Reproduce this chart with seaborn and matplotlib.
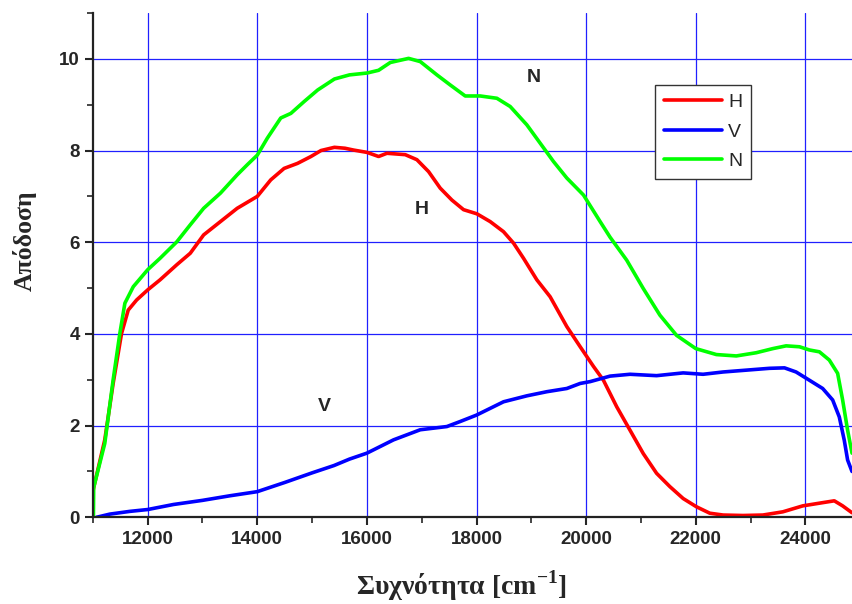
import numpy as np
import pandas as pd
import seaborn as sns
import matplotlib.pyplot as plt
from matplotlib.ticker import MultipleLocator

# data
h_x = [11006, 11217, 11370, 11523, 11645, 11798, 12000, 12226, 12532, 12777, 13021, 13327,
       13633, 14000, 14245, 14489, 14734, 14979, 15162, 15407, 15600, 15757, 16000, 16213,
       16365, 16699, 16912, 17125, 17337, 17550, 17763, 18006, 18249, 18492, 18675, 18857,
       19100, 19343, 19647, 19891, 20134, 20315, 20558, 20800, 21042, 21285, 21527, 21770,
       22012, 22255, 22497, 22861, 23224, 23588, 23952, 24315, 24527, 24679, 24850]
h_y = [0.6, 1.69, 2.92, 4.01, 4.52, 4.74, 4.96, 5.18, 5.51, 5.76, 6.16, 6.45,
       6.74, 7.0, 7.36, 7.61, 7.72, 7.87, 8.0, 8.07, 8.05, 8.01, 7.96, 7.87,
       7.94, 7.91, 7.8, 7.54, 7.18, 6.92, 6.71, 6.62, 6.45, 6.23, 5.98, 5.65,
       5.18, 4.81, 4.16, 3.72, 3.29, 2.99, 2.41, 1.9, 1.39, 0.96, 0.67, 0.41,
       0.23, 0.09, 0.05, 0.04, 0.05, 0.12, 0.25, 0.32, 0.36, 0.25, 0.1]

v_x = [11064, 11309, 11676, 12000, 12471, 13000, 13500, 14000, 14500, 15000, 15400, 15682,
       16000, 16486, 16973, 17459, 17702, 18000, 18492, 18918, 19283, 19647, 19891, 20073,
       20436, 20800, 21285, 21770, 22133, 22497, 22921, 23345, 23618, 23830, 24073, 24315,
       24497, 24618, 24709, 24770, 24850]
v_y = [0.0, 0.07, 0.13, 0.17, 0.28, 0.37, 0.47, 0.56, 0.76, 0.97, 1.13, 1.27,
       1.4, 1.69, 1.91, 1.98, 2.09, 2.23, 2.52, 2.65, 2.74, 2.81, 2.92, 2.96,
       3.08, 3.12, 3.09, 3.15, 3.12, 3.17, 3.21, 3.25, 3.26, 3.17, 2.99, 2.81,
       2.56, 2.19, 1.68, 1.25, 1.0]

n_x = [11010, 11015, 11217, 11370, 11492, 11584, 11737, 12000, 12226, 12532, 12777, 13021,
       13327, 13633, 13817, 14000, 14183, 14428, 14612, 14856, 15101, 15407, 15682, 16000,
       16213, 16426, 16760, 16973, 17277, 17520, 17793, 18067, 18371, 18614, 18918, 19161,
       19404, 19647, 19951, 20255, 20436, 20739, 21042, 21345, 21648, 22000, 22376, 22739,
       23103, 23406, 23648, 23891, 24073, 24255, 24436, 24588, 24679, 24770, 24850]
n_y = [0.0, 0.65, 1.61, 3.0, 4.01, 4.67, 5.03, 5.4, 5.65, 6.01, 6.38, 6.74,
       7.07, 7.47, 7.69, 7.9, 8.27, 8.71, 8.81, 9.07, 9.32, 9.56, 9.65, 9.69,
       9.75, 9.92, 10.01, 9.94, 9.65, 9.43, 9.19, 9.19, 9.14, 8.96, 8.56, 8.16,
       7.76, 7.4, 7.03, 6.45, 6.11, 5.61, 4.99, 4.41, 3.97, 3.68, 3.55, 3.52,
       3.59, 3.68, 3.74, 3.72, 3.65, 3.61, 3.43, 3.14, 2.56, 1.9, 1.4]

df = pd.concat([
    pd.DataFrame({'x': h_x, 'y': h_y, 'series': 'H'}),
    pd.DataFrame({'x': v_x, 'y': v_y, 'series': 'V'}),
    pd.DataFrame({'x': n_x, 'y': n_y, 'series': 'N'}),
])

sns.set_style('ticks')
plt.rcParams['font.family'] = ['Liberation Sans', 'DejaVu Sans']
plt.rcParams['mathtext.fontset'] = 'custom'
plt.rcParams['mathtext.rm'] = 'Liberation Serif:bold'
plt.rcParams['mathtext.bf'] = 'Liberation Serif:bold'

fig = plt.figure(figsize=(8.52, 6.04), dpi=100)
ax = fig.add_axes([0.109, 0.1435, 0.891, 0.835])

sns.lineplot(data=df, x='x', y='y', hue='series', sort=False, estimator=None,
             palette={'H': '#ff0000', 'V': '#0000ff', 'N': '#00ff00'},
             linewidth=2.6, ax=ax)

ax.set_xlim(11000, 24850)
ax.set_ylim(0, 11)
ax.xaxis.set_major_locator(MultipleLocator(2000))
ax.xaxis.set_minor_locator(MultipleLocator(1000))
ax.yaxis.set_major_locator(MultipleLocator(2))
ax.yaxis.set_minor_locator(MultipleLocator(1))
ax.grid(True, which='major', color='#2020ff', linewidth=0.9)
ax.set_axisbelow(True)
for s in ['top', 'right']:
    ax.spines[s].set_visible(False)
for s in ['left', 'bottom']:
    ax.spines[s].set_linewidth(1.6)
    ax.spines[s].set_color('#222222')
ax.tick_params(which='major', direction='out', length=6, width=1.5, labelsize=13.5)
ax.tick_params(which='minor', direction='out', length=4, width=1.2)
for lab in ax.get_xticklabels() + ax.get_yticklabels():
    lab.set_fontweight('bold')

ax.set_xlabel('Συχνότητα [cm$^{\\mathbf{-1}}$]', fontsize=20, fontweight='bold',
              family='Liberation Serif')
ax.set_ylabel('Απόδοση', fontsize=18.5, fontweight='bold', family='Liberation Serif')
ax.xaxis.set_label_coords(0.486, -0.102)
ax.yaxis.set_label_coords(-0.074, 0.548)

ax.text(19050, 9.6, 'N', fontsize=14, fontweight='bold', ha='center', va='center')
ax.text(17000, 6.72, 'H', fontsize=14, fontweight='bold', ha='center', va='center')
ax.text(15230, 2.42, 'V', fontsize=14, fontweight='bold', ha='center', va='center')

leg = ax.legend(loc='upper left', bbox_to_anchor=(0.741, 0.858), borderaxespad=0,
                fontsize=14, handlelength=3.0, handletextpad=0.3, fancybox=False,
                framealpha=1, edgecolor='#333333', title=None, borderpad=0.45,
                labelspacing=0.62)
leg.get_frame().set_linewidth(1.0)

fig.savefig('out.png', dpi=100, facecolor='white')
